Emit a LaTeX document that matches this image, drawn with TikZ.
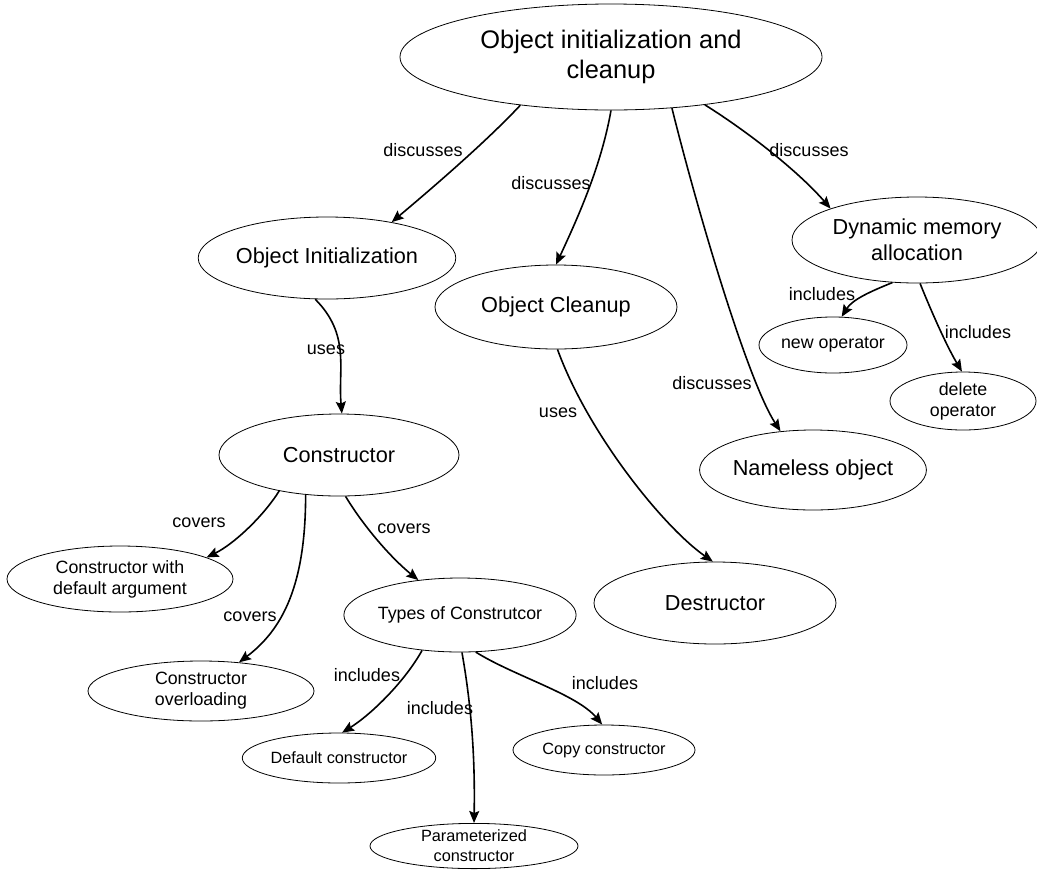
\documentclass[tikz,border=0pt]{standalone}
\usepackage{fontspec}
\setmainfont{Liberation Sans}
\usetikzlibrary{arrows.meta,shapes.geometric}

\begin{document}
\begin{tikzpicture}[x=1pt,y=1pt,
  concept/.style={ellipse,draw,line width=0.8pt,inner sep=0pt,align=center},
  fbig/.style={font=\fontsize{25.4}{30}\selectfont},
  fmid/.style={font=\fontsize{21.7}{26}\selectfont},
  fsml/.style={font=\fontsize{17.8}{21}\selectfont},
  ftiny/.style={font=\fontsize{16.3}{20}\selectfont},
  link/.style={line width=1.6pt,-{Stealth[length=12pt,width=10pt,inset=2pt]}},
  lbl/.style={font=\fontsize{18}{22}\selectfont,inner sep=0pt}]
\useasboundingbox (0,0) rectangle (1037,-871);

% concepts
\node[concept,fbig,minimum width=422pt,minimum height=106pt] (top) at (611,-57) {Object initialization and\\cleanup};
\node[concept,fmid,minimum width=242pt,minimum height=82pt] (oi) at (327,-258) {Object Initialization};
\node[concept,fmid,minimum width=242pt,minimum height=84pt] (oc) at (556,-307) {Object Cleanup};
\node[concept,fmid,minimum width=250pt,minimum height=86pt] (dma) at (917,-240) {Dynamic memory\\allocation};
\node[concept,fsml,minimum width=148pt,minimum height=56pt] (newop) at (833,-345) {new operator};
\node[concept,fsml,minimum width=146pt,minimum height=58pt] (delop) at (963,-401) {delete\\operator};
\node[concept,fmid,minimum width=210pt,minimum height=80pt] (nl) at (813,-470) {Nameless object};
\node[concept,fmid,minimum width=240pt,minimum height=82pt] (ctor) at (339,-455) {Constructor};
\node[concept,fsml,minimum width=226pt,minimum height=66pt] (cdef) at (120,-579) {Constructor with\\default argument};
\node[concept,fsml,minimum width=226pt,minimum height=60pt] (cover) at (201,-691) {Constructor\\overloading};
\node[concept,fsml,minimum width=226pt,minimum height=74pt] (types) at (460,-615) {Types of Construtcor};
\node[concept,ftiny,minimum width=186pt,minimum height=50pt] (defc) at (339,-758) {Default constructor};
\node[concept,ftiny,minimum width=182pt,minimum height=50pt] (copyc) at (604,-750) {Copy constructor};
\node[concept,ftiny,minimum width=208pt,minimum height=44pt] (param) at (474,-846) {Parameterized\\constructor};
\node[concept,fmid,minimum width=242pt,minimum height=82pt] (dest) at (715,-603) {Destructor};

% relations
\draw[link] (top.-152.2) .. controls +(-133:50) and +(40:50) .. (oi.29);
\draw[link] (top.-90) .. controls +(-100:55) and +(65:55) .. (oc.90);
\draw[link] (top.-40.3) .. controls +(-76:110) and +(123:60) .. (nl.130);
\draw[link] (top.-27) .. controls +(-32:50) and +(131:50) .. (dma.160.8);
\draw[link] (oi.-106.3) .. controls +(-45:50) and +(95:45) .. (ctor.86);
\draw[link] (ctor.-149.9) .. controls +(-122:30) and +(26:30) .. (cdef.14.2);
\draw[link] (ctor.-130) .. controls +(-90:90) and +(37:55) .. (cover.37.9);
\draw[link] (ctor.-81.7) .. controls +(-59:35) and +(141:35) .. (types.140);
\draw[link] (types.-137) .. controls +(-119:35) and +(32:35) .. (defc.83);
\draw[link] (types.-87) .. controls +(-80:60) and +(89:60) .. (param.90);
\draw[link] (types.-67) .. controls +(-32:45) and +(130:40) .. (copyc.94);
\draw[link] (dma.-120) .. controls +(-158:25) and +(58:20) .. (newop.73);
\draw[link] (dma.-86) .. controls +(-68:30) and +(121:30) .. (delop.92);
\draw[link] (oc.-88) .. controls +(-70:90) and +(145:60) .. (dest.93);

% relation labels
\node[lbl] (l1) at (423,-150) {discusses};
\node[lbl] (l2) at (551,-183) {discusses};
\node[lbl] (l3) at (712,-383) {discusses};
\node[lbl] (l4) at (809,-150) {discusses};
\node[lbl] (l5) at (326,-350) {uses};
\node[lbl] (l6) at (199,-523) {covers};
\node[lbl] (l7) at (250,-617) {covers};
\node[lbl] (l8) at (404,-529) {covers};
\node[lbl] (l9) at (367,-675) {includes};
\node[lbl] (l10) at (440,-708) {includes};
\node[lbl] (l11) at (605,-683) {includes};
\node[lbl] (l12) at (822,-294) {includes};
\node[lbl] (l13) at (978,-332) {includes};
\node[lbl] (l14) at (558,-413) {uses};
\end{tikzpicture}
\end{document}
